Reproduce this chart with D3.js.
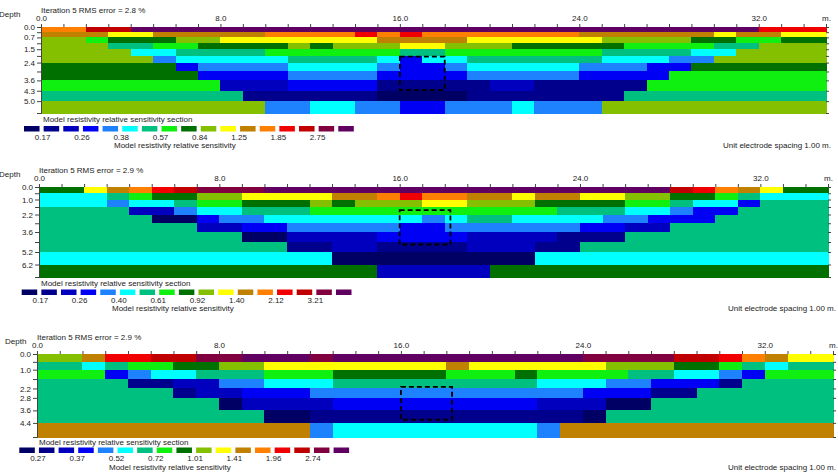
<!DOCTYPE html>
<html>
<head>
<meta charset="utf-8">
<script src="https://cdn.jsdelivr.net/npm/d3@7"></script>
<style>
body { margin: 0; background: #fff; }
text { font-family: "Liberation Sans", Arial, sans-serif; fill: #222; }
.axis path, .axis line { stroke: #444; }
</style>
</head>
<body>
<svg id="chart" width="838" height="476"></svg>
<script>
// 17 legend colours, low -> high sensitivity (codes a..q)
var palette = ["#000064", "#00008c", "#0000be", "#0000f5", "#1e82ff", "#00ffff", "#00c080",
               "#10f010", "#007000", "#84c000", "#ffff00", "#c08000", "#ff8000", "#f00000",
               "#c00000", "#800040", "#600060"];
var codes = "abcdefghijklmnopq";

var titles = ["Iteration 5 RMS error = 2.8 %", "Iteration 5 RMS error = 2.9 %", "Iteration 5 RMS error = 2.9 %"];
var xTickLabels = [0, 8, 16, 24, 32];
var nCols = 35;

// section 1
var depthBounds1 = [0, 0.35, 0.7, 1.1, 1.5, 1.95, 2.4, 3.0, 3.6, 4.3, 5.0, 5.8];
var depthLabels1 = [0.0, 0.7, 1.5, 2.4, 3.6, 4.3, 5.0];
var rows1 = [
  "mmoo qqqqqqqqqqqqqqqqqqqqqqqqqqqq nnn",
  "lll kk lllll mmmm n m n mmmmmmm llllll k ll kk",
  "jj h iii jj kkkkkkk llll kkkkkk jjjj ii hh ii",
  "jjj gg hh iiii j i jjj kk jjj iiiii hhhh gg jjj",
  "jjjj ff gggg hhhhhh gg hhhhhhh gggg ff jjjj",
  "jjjjj e fffff gggg f d ff gggggg fff ee jjjjj",
  "iiiiii d eeee ffff e dd e fffff eee dd iiiiii",
  "iiiiiii dddd eeee dddd eeeee dddd hhhhhhh",
  "hhhhhhhh ccc dddd bbbbb cc bbbbb hhhhhhhh",
  "ggggggggg bbbbbb aaaa bbbbbbb ggggggggg",
  "jjjjjjjjjj ee ff ee dd eee f eee jjjjjjjjjj"
];
var legendLabels1 = ["0.17", "0.26", "0.38", "0.57", "0.84", "1.25", "1.85", "2.75"];
var box1 = [16, 18, 2.0, 4.25];

// section 2
var depthBounds2 = [0, 0.5, 1.0, 1.6, 2.2, 2.9, 3.6, 4.4, 5.2, 6.2, 7.2];
var depthLabels2 = [0.0, 1.0, 2.2, 3.6, 5.2, 6.2];
var rows2 = [
  "ii k l m n o ppp qqqqqqqqqqqqqqqqqq o n m l k ii",
  "fff g h ii jj kkkk ll m n mm ll k ll kk jj ii h g fff",
  "fff e ff g hh iii j i jjj kk jjj iiii hh g ff d ggg",
  "gggg cc e ff ggg hhhhhhhhhhh ggg ff e dd gggg",
  "ggggg aa d ee ffffff f e f gg ffff ee ddd ggggg",
  "ggggggg cc dd eeeee dd eeeeee dd cc ggggggg",
  "ggggggggg aa cccc dddd cccc bbb ggggggggg",
  "ggggggggggg bb cc bbbb ccc bb ggggggggggg",
  "fffffffffffff aaaaaaaaa fffffffffffff",
  "iiiiiiiiiiiiiii ccccc iiiiiiiiiiiiiii"
];
var legendLabels2 = ["0.17", "0.26", "0.40", "0.61", "0.92", "1.40", "2.12", "3.21"];
var box2 = [16, 18.25, 1.85, 4.6];

// section 3
var depthBounds3 = [0, 0.5, 1.0, 1.6, 2.2, 2.8, 3.6, 4.4, 5.3];
var depthLabels3 = [0.0, 1.0, 2.2, 2.8, 3.6, 4.4];
var rows3 = [
  "jj l nn oo pp qqq p qqqq qqqqqqq pppp oo n m l kk",
  "gg f g hh ii jj kkkkkkk k l kkkkkk jjj ii h g f gg",
  "hhh d e ff ggg hhh iiii i hhh i hhhh gg ff e d hhh",
  "gggg bb cc ee fff gggg ggggg fff ee ddd b gggg",
  "gggggg b cc ddd eeee e eeeeeee ddd bb gggggg",
  "gggggggg a cccc ddddddddd ccc aa gggggggg",
  "gggggggggg aa bbbbbbbbbbbb a gggggggggg",
  "llllllllllll e fffffffff e llllllllllll"
];
var legendLabels3 = ["0.27", "0.37", "0.52", "0.72", "1.01", "1.41", "1.96", "2.74"];
var box3 = [16, 18.25, 2.1, 4.2];

var svg = d3.select("#chart");

var panels = [
  {title: titles[0], bounds: depthBounds1, labels: depthLabels1, rows: rows1, legend: legendLabels1, box: box1,
   x0: 41, x1: 826, yTop: 27, yBot: 113, depthX: -1, lx: 24, lTitle: 9, lBox: 13, lLab: 26.5, lSub: 35, subX: 114, unitX: 831},
  {title: titles[1], bounds: depthBounds2, labels: depthLabels2, rows: rows2, legend: legendLabels2, box: box2,
   x0: 39, x1: 828, yTop: 187, yBot: 277, depthX: -1, lx: 21.7, lTitle: 9, lBox: 12.5, lLab: 26, lSub: 34, subX: 112, unitX: 836},
  {title: titles[2], bounds: depthBounds3, labels: depthLabels3, rows: rows3, legend: legendLabels3, box: box3,
   x0: 37, x1: 833, yTop: 354, yBot: 437, depthX: 5, lx: 19.3, lTitle: 8, lBox: 10.5, lLab: 24, lSub: 32.5, subX: 109, unitX: 836}
];

panels.forEach(function(p) {
  var g = svg.append("g");
  var x = d3.scaleLinear().domain([0, nCols]).range([p.x0, p.x1]);
  var y = d3.scaleLinear().domain([0, d3.max(p.bounds)]).range([p.yTop, p.yBot]);

  var cells = [];
  p.rows.forEach(function(r, ri) {
    var s = r.replace(/ /g, "");
    for (var c = 0; c < s.length; c++) cells.push({c: c, r: ri, k: codes.indexOf(s[c])});
  });

  g.selectAll("rect.cell")
    .data(cells)
    .enter().append("rect")
      .attr("class", "cell")
      .attr("shape-rendering", "crispEdges")
      .attr("x", function(d) { return x(d.c); })
      .attr("width", function(d) { return x(d.c + 1) - x(d.c) + 0.6; })
      .attr("y", function(d) { return y(p.bounds[d.r]); })
      .attr("height", function(d) { return y(p.bounds[d.r + 1]) - y(p.bounds[d.r]) + 0.6; })
      .attr("fill", function(d) { return palette[d.k]; });

  // axes
  g.append("g")
    .attr("class", "axis")
    .attr("transform", "translate(0," + p.yTop + ")")
    .call(d3.axisTop(x).tickValues(d3.range(0, nCols + 1)).tickSize(3).tickPadding(3)
      .tickFormat(function(d) {
        if (d === nCols) return "m.";
        return xTickLabels.indexOf(d) >= 0 ? d.toFixed(1) : "";
      }))
    .call(function(a) { a.selectAll("text").attr("font-size", 8); a.select(".domain").remove(); });

  g.append("g")
    .attr("class", "axis")
    .attr("transform", "translate(" + p.x0 + ",0)")
    .call(d3.axisLeft(y).tickValues(p.bounds).tickSize(4).tickPadding(2)
      .tickFormat(function(d) { return p.labels.indexOf(d) >= 0 ? d.toFixed(1) : ""; }))
    .call(function(a) { a.selectAll("text").attr("font-size", 8); a.select(".domain").attr("stroke", "#666"); });

  g.append("g")
    .attr("class", "axis")
    .attr("transform", "translate(" + p.x1 + ",0)")
    .call(d3.axisRight(y).tickValues(p.bounds).tickSize(3).tickFormat(""))
    .call(function(a) { a.select(".domain").remove(); });

  // dashed target outline
  g.append("rect")
    .attr("x", x(p.box[0]))
    .attr("y", y(p.box[2]))
    .attr("width", x(p.box[1]) - x(p.box[0]))
    .attr("height", y(p.box[3]) - y(p.box[2]))
    .attr("fill", "none")
    .attr("stroke", "#000")
    .attr("stroke-width", 1.8)
    .attr("stroke-dasharray", "5,3");

  // titles
  g.append("text").attr("x", p.x0).attr("y", p.yTop - 14).attr("font-size", 8).text(p.title);
  g.append("text").attr("x", p.depthX).attr("y", p.yTop - 10).attr("font-size", 8).text("Depth");

  // legend
  var lb = d3.scaleBand().domain(d3.range(palette.length))
    .range([p.lx, p.lx + palette.length * 19.4]).paddingInner(0.21).paddingOuter(0);
  g.append("text").attr("x", p.x0 + 2).attr("y", p.yBot + p.lTitle).attr("font-size", 8)
    .text("Model resistivity relative sensitivity section");
  g.selectAll("rect.leg")
    .data(palette)
    .enter().append("rect")
      .attr("class", "leg")
      .attr("x", function(d, i) { return lb(i); })
      .attr("y", p.yBot + p.lBox)
      .attr("width", lb.bandwidth())
      .attr("height", 5.5)
      .attr("fill", function(d) { return d; });
  g.selectAll("text.leglab")
    .data(p.legend)
    .enter().append("text")
      .attr("class", "leglab")
      .attr("x", function(d, i) { return lb(2 * i + 1) - 1; })
      .attr("y", p.yBot + p.lLab)
      .attr("text-anchor", "middle")
      .attr("font-size", 8)
      .text(function(d) { return d; });
  g.append("text").attr("x", p.subX).attr("y", p.yBot + p.lSub).attr("font-size", 8)
    .text("Model resistivity relative sensitivity");
  g.append("text").attr("x", p.unitX).attr("y", p.yBot + p.lSub).attr("font-size", 8)
    .attr("text-anchor", "end").text("Unit electrode spacing 1.00 m.");
});
</script>
</body>
</html>
